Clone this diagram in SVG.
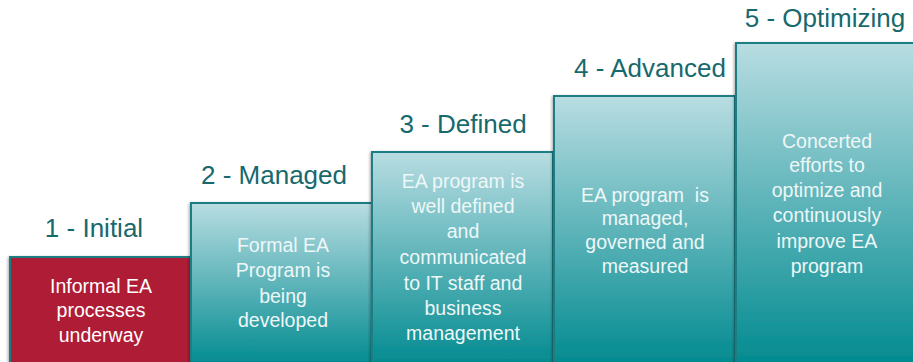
<svg xmlns="http://www.w3.org/2000/svg" width="913" height="362" viewBox="0 0 913 362">
<defs>
<linearGradient id="g" x1="0" y1="0" x2="0" y2="1">
<stop offset="0" stop-color="#B8DDE2"/>
<stop offset="1" stop-color="#008A8F"/>
</linearGradient>
<filter id="sh" x="-10%" y="-10%" width="120%" height="120%">
<feDropShadow dx="-1" dy="1" stdDeviation="1.5" flood-color="#000" flood-opacity="0.35"/>
</filter>
<style>
.box{stroke:#1A7E83;stroke-width:2;filter:url(#sh)}
.grad{fill:url(#g)}
.red{fill:#AF1C35}
.lbl{font-family:"Liberation Sans",Arial,sans-serif;font-size:26px;fill:#17696D;text-anchor:middle}
.txt{font-family:"Liberation Sans",Arial,sans-serif;font-size:19.5px;fill:#EEF7F8;text-anchor:middle}
.txt1{font-family:"Liberation Sans",Arial,sans-serif;font-size:19.5px;fill:#FFFFFF;text-anchor:middle}
</style>
</defs>
<rect width="913" height="362" fill="#FFFFFF"/>
<g id="step1">
<rect class="box red" x="10" y="257" width="181" height="110"/>
<text class="lbl" x="94" y="237">1 - Initial</text>
<text class="txt1" x="101" y="293">Informal EA</text>
<text class="txt1" x="101" y="317">processes</text>
<text class="txt1" x="101" y="342">underway</text>
</g>
<g id="step2">
<rect class="box grad" x="191" y="203" width="181" height="164"/>
<text class="lbl" x="274" y="184">2 - Managed</text>
<text class="txt" x="283" y="252">Formal EA</text>
<text class="txt" x="283" y="277">Program is</text>
<text class="txt" x="283" y="303">being</text>
<text class="txt" x="283" y="327">developed</text>
</g>
<g id="step3">
<rect class="box grad" x="372" y="152" width="181" height="215"/>
<text class="lbl" x="463" y="133">3 - Defined</text>
<text class="txt" x="463" y="188">EA program is</text>
<text class="txt" x="463" y="213">well defined</text>
<text class="txt" x="463" y="238">and</text>
<text class="txt" x="463" y="264">communicated</text>
<text class="txt" x="463" y="290">to IT staff and</text>
<text class="txt" x="463" y="315">business</text>
<text class="txt" x="463" y="340">management</text>
</g>
<g id="step4">
<rect class="box grad" x="554" y="96" width="181" height="271"/>
<text class="lbl" x="650" y="77">4 - Advanced</text>
<text class="txt" x="645" y="202" xml:space="preserve">EA program  is</text>
<text class="txt" x="645" y="225">managed,</text>
<text class="txt" x="645" y="249">governed and</text>
<text class="txt" x="645" y="273">measured</text>
</g>
<g id="step5">
<rect class="box grad" x="736" y="43" width="182" height="324"/>
<text class="lbl" x="825" y="27">5 - Optimizing</text>
<text class="txt" x="827" y="148">Concerted</text>
<text class="txt" x="827" y="172">efforts to</text>
<text class="txt" x="827" y="197">optimize and</text>
<text class="txt" x="827" y="222">continuously</text>
<text class="txt" x="827" y="248">improve EA</text>
<text class="txt" x="827" y="273">program</text>
</g>
<g id="connectors"></g>
</svg>
